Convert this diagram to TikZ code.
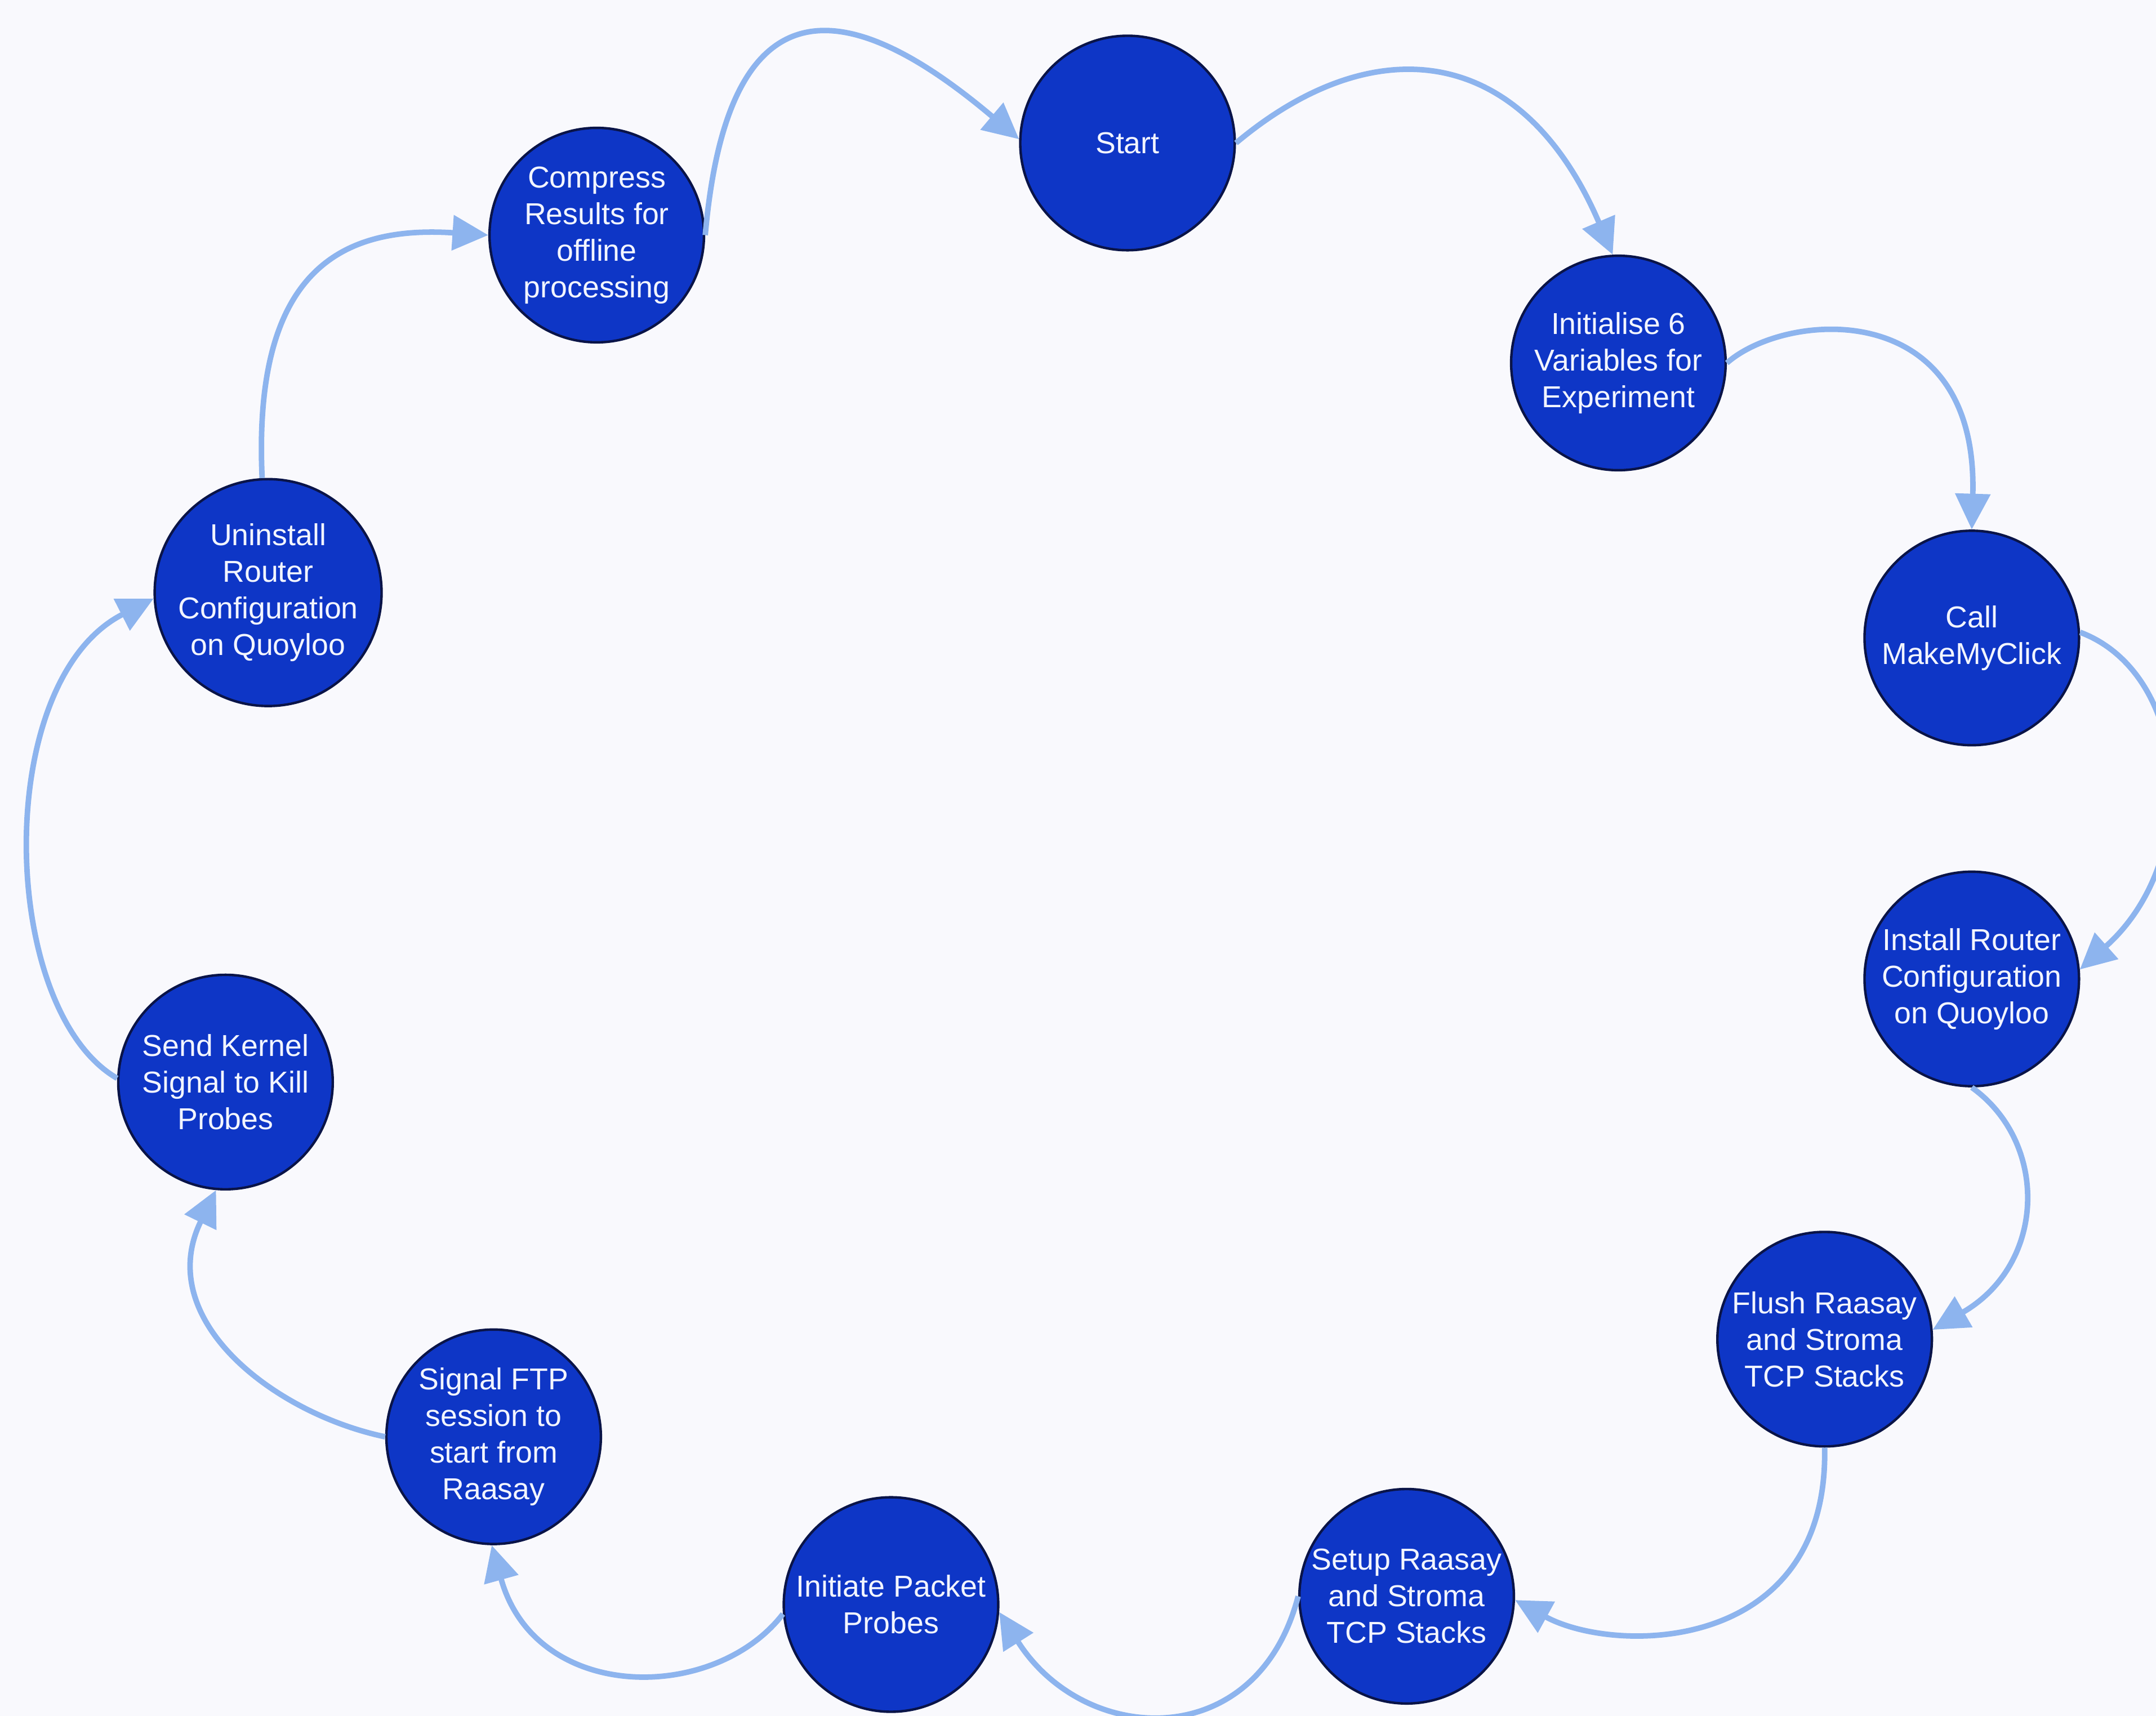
\documentclass[tikz,border=0pt]{standalone}
\usepackage{fontspec}
\setmainfont{Liberation Sans}
\usetikzlibrary{arrows.meta}
\definecolor{paper}{HTML}{F9F9FD}
\definecolor{stepfill}{HTML}{0E36C6}
\definecolor{stepedge}{HTML}{0A1448}
\definecolor{steptext}{HTML}{F2F5FF}
\definecolor{flowline}{HTML}{8DB4EE}
\tikzset{
  stepnode/.style={circle, draw=stepedge, line width=0.9pt, fill=stepfill,
    minimum size=78pt, inner sep=0pt, align=center, text=steptext,
    font=\fontsize{11}{13.3}\selectfont},
  flow/.style={draw=flowline, line width=2pt,
    -{Triangle[length=13pt,width=12.5pt]}, fill=none}
}
\begin{document}
\begin{tikzpicture}[x=0.5pt,y=-0.5pt]
  \useasboundingbox (0,0) rectangle (1568,1248);
  \path[fill=paper] (0,0) rectangle (1568,1248);

  % process steps, clockwise from the top
  \node[stepnode] (start)   at (820,104)  {Start};
  \node[stepnode] (init)    at (1177,264) {Initialise 6\\Variables for\\Experiment};
  \node[stepnode] (call)    at (1434,464) {Call\\MakeMyClick};
  \node[stepnode] (install) at (1434,712) {Install Router\\Configuration\\on Quoyloo};
  \node[stepnode] (flush)   at (1327,974) {Flush Raasay\\and Stroma\\TCP Stacks};
  \node[stepnode] (setup)   at (1023,1161) {Setup Raasay\\and Stroma\\TCP Stacks};
  \node[stepnode] (probes)  at (648,1167) {Initiate Packet\\Probes};
  \node[stepnode] (ftp)     at (359,1045) {Signal FTP\\session to\\start from\\Raasay};
  \node[stepnode] (kill)    at (164,787)  {Send Kernel\\Signal to Kill\\Probes};
  \node[stepnode] (uninst)  at (195,431)  {Uninstall\\Router\\Configuration\\on Quoyloo};
  \node[stepnode] (comp)    at (434,171)  {Compress\\Results for\\offline\\processing};

  % curved connectors between consecutive steps
  \draw[flow] (comp.0) .. controls +(16,-182) and +(-130,-110) .. (start.178);
  \draw[flow] (start.0) .. controls +(100,-84) and +(-66,-154) .. (init.93);
  \draw[flow] (init.0) .. controls +(43,-38) and +(5,-170) .. (call.90);
  \draw[flow] (call.3) .. controls +(80,30) and +(90,-80) .. (install.5);
  \draw[flow] (install.-90) .. controls +(56,40) and +(83,-48) .. (flush.5);
  \draw[flow] (flush.-90) .. controls +(3,150) and +(73,40) .. (setup.-2);
  \draw[flow] (setup.180) .. controls +(-30,115) and +(62,98) .. (probes.-4);
  \draw[flow] (probes.185) .. controls +(-50,65) and +(32,115) .. (ftp.-91);
  \draw[flow] (ftp.180) .. controls +(-81,-17) and +(-46,94) .. (kill.-95);
  \draw[flow] (kill.178) .. controls +(-86,-50) and +(-118,60) .. (uninst.183);
  \draw[flow] (uninst.93) .. controls +(-7,-152) and +(-106,-7) .. (comp.180);
\end{tikzpicture}
\end{document}
